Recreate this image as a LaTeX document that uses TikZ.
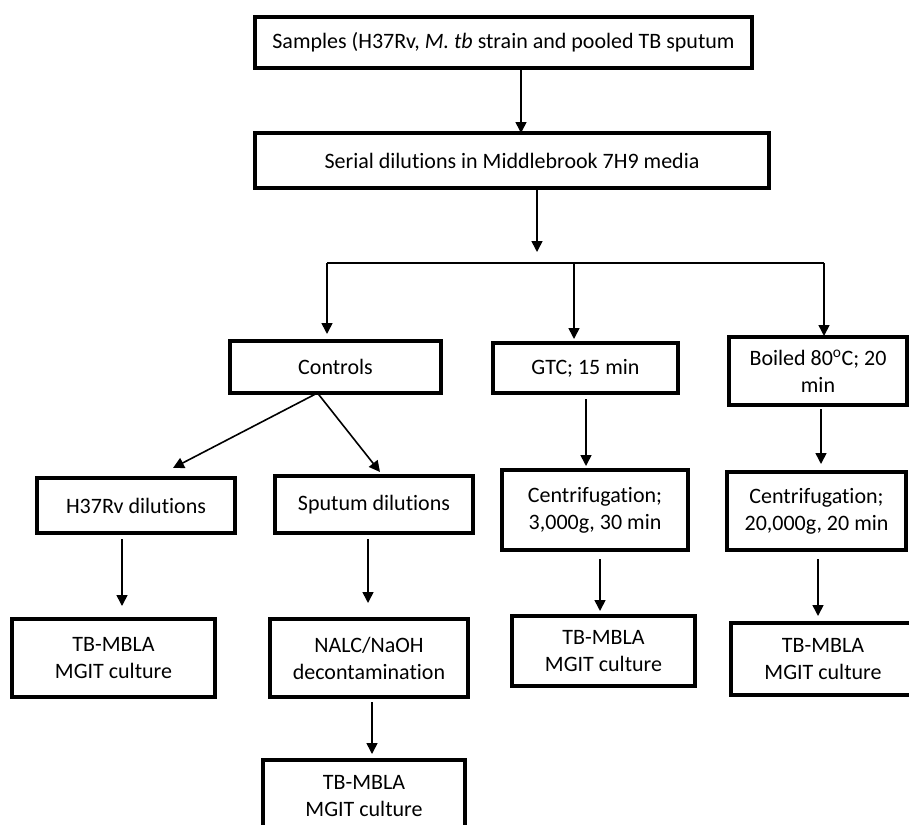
\documentclass[tikz,border=0pt]{standalone}
\usepackage{fontspec}
\setmainfont{Carlito}[Ligatures={NoCommon}]
\usetikzlibrary{arrows.meta,calc}
\tikzset{
  box/.style={draw, line width=3.8pt, inner sep=0pt, outer sep=0pt, align=center,
    font=\fontsize{22}{27}\selectfont},
  arr/.style={line width=1.6pt, -{Triangle[width=11pt,length=11pt]}},
  bus/.style={line width=1.6pt},
}
\newcommand\boxat[6]{\node[box, minimum width={#3-#1}, minimum height={#4-#2}] (#5) at ({(#1+#3)/2},{(#2+#4)/2}) {#6};}
\begin{document}
\begin{tikzpicture}[x=1pt,y=-1pt]
\fill[white] (0,0) rectangle (909,824);
\useasboundingbox (0,0) rectangle (909,824);

\boxat{255}{17}{752}{68}{samples}{Samples (H37Rv, \textit{M. tb} strain and pooled TB sputum}
\boxat{255}{133}{769}{188}{serial}{Serial dilutions in Middlebrook 7H9 media}
\boxat{230}{341}{441}{393}{controls}{Controls}
\boxat{493}{343}{678}{393}{gtc}{GTC; 15 min}
\boxat{729}{337}{907}{405}{boiled}{Boiled 80\textsuperscript{o}C; 20\\min}
\boxat{37}{478}{235}{533}{h37}{H37Rv dilutions}
\boxat{275}{476}{473}{533}{sputum}{Sputum dilutions}
\boxat{502}{470}{688}{550}{cenA}{Centrifugation;\\3,000g, 30 min}
\boxat{727}{472}{906}{550}{cenB}{Centrifugation;\\20,000g, 20 min}
\boxat{12}{619}{215}{697}{tbA}{TB-MBLA\\MGIT culture}
\boxat{270}{619}{468}{697}{nalc}{NALC/NaOH\\decontamination}
\boxat{512}{616}{695}{686}{tbC}{TB-MBLA\\MGIT culture}
\boxat{731}{623}{915}{695}{tbD}{TB-MBLA\\MGIT culture}
\boxat{263}{760}{465}{832}{tbB}{TB-MBLA\\MGIT culture}

% bus
\coordinate (busL) at (327,263);
\coordinate (busM) at (537,263);
\coordinate (busG) at (574,263);
\coordinate (busR) at (824,263);

\draw[arr] (samples.south -| 521,0) -- (serial.north -| 521,0);
\draw[arr, shorten <=2pt] (serial.south -| busM) -- ([yshift=11pt]busM);
\draw[bus] (busL) -- (busR);
\draw[arr, shorten >=7pt] (busL) -- (controls.north -| busL);
\draw[arr, shorten >=4pt] (busG) -- (gtc.north -| busG);
\draw[arr, shorten >=1pt] (busR) -- (boiled.north -| busR);

\draw[arr] ([xshift=-18pt]controls.south) -- ([xshift=37pt,yshift=10pt]h37.north);
\draw[arr] ([xshift=-18pt]controls.south) -- ([xshift=6pt,yshift=4pt]sputum.north);

\draw[arr, shorten <=6pt, shorten >=13pt] (h37.south -| 122,0) -- (tbA.north -| 122,0);
\draw[arr, shorten <=6pt, shorten >=16pt] (sputum.south -| 368,0) -- (nalc.north -| 368,0);
\draw[arr, shorten <=5pt, shorten >=6pt] (nalc.south -| 372,0) -- (tbB.north -| 372,0);
\draw[arr, shorten <=6pt, shorten >=4pt] (gtc.south -| 586,0) -- (cenA.north -| 586,0);
\draw[arr, shorten <=9pt, shorten >=5pt] (cenA.south -| 600,0) -- (tbC.north -| 600,0);
\draw[arr, shorten <=4pt, shorten >=8pt] (boiled.south -| 821,0) -- (cenB.north -| 821,0);
\draw[arr, shorten <=9pt, shorten >=7pt] (cenB.south -| 818,0) -- (tbD.north -| 818,0);
\end{tikzpicture}
\end{document}
